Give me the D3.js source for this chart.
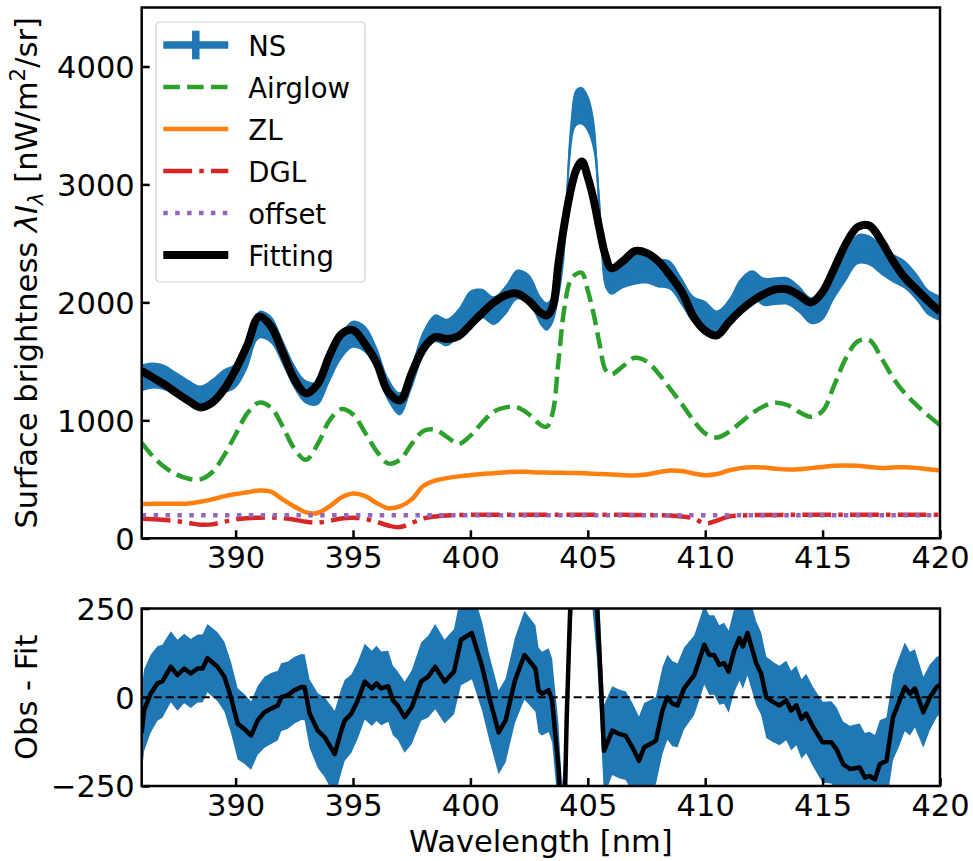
<!DOCTYPE html>
<html><head><meta charset="utf-8">
<script src="https://cdn.jsdelivr.net/npm/d3@7"></script>
<style>body{margin:0;background:#fff} svg text{font-family:"DejaVu Sans",sans-serif;fill:#000}</style>
</head><body><svg id="c" width="973" height="861"></svg>
<script>
// ---------- data ----------
const wavelength = [386,386.5,387,387.5,388,388.5,389,389.5,390,390.5,391,391.5,392,392.5,393,393.5,394,394.5,395,395.5,396,396.5,397,397.5,398,398.5,399,399.5,400,400.5,401,401.5,402,402.5,403,403.25,403.5,403.75,404,404.25,404.5,404.75,405,405.25,405.5,405.75,406,406.5,407,407.5,408,408.5,409,409.5,410,410.5,411,411.5,412,412.5,413,413.5,414,414.5,415,415.5,416,416.5,417,417.5,418,418.5,419,419.5,420];
const fitting = [1420,1360,1300,1230,1165,1110,1150,1260,1430,1640,1880,1800,1580,1350,1230,1310,1550,1730,1765,1650,1490,1240,1170,1400,1610,1705,1690,1715,1810,1910,2000,2060,2075,2010,1910,1890,1960,2330,2660,2930,3120,3195,3060,2870,2620,2400,2290,2350,2435,2420,2350,2230,2090,1880,1760,1720,1830,1930,2010,2070,2110,2110,2060,2000,2090,2290,2500,2640,2650,2520,2350,2210,2110,2010,1920];
const nsValue = [1360,1380,1360,1300,1240,1195,1250,1330,1380,1550,1810,1770,1580,1370,1240,1230,1430,1630,1730,1690,1520,1260,1140,1370,1650,1780,1745,1830,1975,1990,1930,2020,2150,2110,1925,1880,1940,2140,2500,3350,3650,3665,3600,3420,2800,2250,2190,2245,2275,2285,2250,2230,2090,1940,1900,1820,1910,2080,2150,2090,2095,2095,2025,1930,1965,2150,2305,2450,2440,2360,2290,2235,2130,2000,1950];
const nsError = [115,110,108,105,102,100,100,103,105,110,118,116,110,104,100,100,106,112,115,114,108,102,98,105,113,118,117,120,125,125,122,125,128,127,122,120,122,128,135,150,158,160,158,150,140,128,125,125,125,125,124,122,118,114,112,112,116,120,122,120,118,118,116,114,116,120,124,127,127,125,122,120,116,110,108];
const airglow = [810,690,600,540,505,500,560,700,880,1060,1150,1110,950,760,665,800,1000,1095,1050,900,740,635,665,800,910,920,860,800,870,980,1075,1110,1110,1050,960,945,1060,1500,1950,2180,2240,2250,2100,1900,1650,1430,1390,1460,1530,1500,1400,1270,1140,1000,890,855,900,980,1060,1120,1150,1130,1070,1030,1080,1300,1530,1670,1680,1530,1360,1230,1130,1040,960];
const zl = [290,292,293,293,295,310,330,355,375,390,405,395,330,270,220,215,270,345,380,360,300,255,270,330,445,490,510,525,535,545,552,560,565,562,558,557,556,555,555,554,553,552,550,548,546,544,540,535,533,540,560,575,570,550,535,545,575,595,603,600,590,583,585,595,605,615,618,615,605,597,600,603,597,585,575];
const dgl = [165,162,155,145,130,115,118,140,160,170,175,176,170,158,140,133,148,168,175,165,140,108,95,130,168,185,193,197,199,200,200,200,200,200,200,200,200,200,200,200,200,200,200,200,200,200,200,199,198,197,196,193,185,170,125,150,185,193,196,198,198,199,199,199,200,200,200,200,200,200,200,200,200,200,200];
const offset = [195,195,195,195,195,195,195,195,195,195,195,195,195,195,195,195,195,195,195,195,195,195,195,195,195,195,195,195,195,195,195,195,195,195,195,195,195,195,195,195,195,195,195,195,195,195,195,195,195,195,195,195,195,195,195,195,195,195,195,195,195,195,195,195,195,195,195,195,195,195,195,195,195,195,195];

const residWl = [386.0,386.1,386.38,386.67,386.88,387.24,387.52,387.81,388.09,388.38,388.59,388.8,389.23,389.52,389.8,390.09,390.37,390.66,390.94,391.23,391.51,391.8,391.94,392.23,392.51,392.8,392.94,393.15,393.5,393.8,394.22,394.5,394.65,394.93,395.2,395.5,395.8,396.0,396.2,396.5,396.7,396.9,397.2,397.5,397.9,398.2,398.5,398.9,399.3,399.6,400.06,400.5,400.8,401.2,401.5,401.9,402.3,402.77,402.9,403.05,403.33,403.48,403.6,403.75,403.9,404.02,404.1,404.25,404.4,404.75,405.1,405.4,405.55,405.69,406.04,406.33,406.61,406.9,407.18,407.4,407.68,407.9,408.18,408.39,408.6,408.82,409.1,409.53,409.75,409.96,410.17,410.38,410.6,410.8,411.0,411.24,411.46,411.6,411.8,412.17,412.38,412.6,412.88,413.16,413.45,413.66,413.88,414.1,414.3,414.6,415.0,415.37,415.59,415.87,416.16,416.58,416.8,417.0,417.23,417.44,417.72,418.0,418.23,418.5,418.72,418.93,419.29,419.57,419.86,420.0];
const residual = [-100,-37,10,39,45,86,62,81,67,81,81,110,86,58,0,-75,-89,-108,-65,-42,-32,-23,0,6,20,29,28,-46,-94,-113,-160,-94,-65,-46,-9,44,25,39,25,31,-9,-23,-56,-28,44,58,86,44,72,162,181,86,0,-99,-65,48,119,81,20,10,20,-9,-94,-198,-380,-300,-60,250,480,500,480,250,48,-151,-94,-103,-108,-141,-179,-141,-131,-122,-37,0,-18,-23,25,62,105,148,119,119,91,96,72,133,167,143,181,96,67,0,-13,-23,-9,-37,-23,-61,-46,-84,-127,-127,-146,-188,-202,-198,-226,-222,-231,-188,-179,-56,-18,29,10,25,-42,0,29,35];
const residError = [118,115,110,105,103,100,100,98,97,96,96,96,97,98,100,100,98,96,97,100,100,98,96,95,94,93,93,96,105,112,122,118,114,110,108,107,106,106,104,100,98,96,100,104,110,115,120,118,120,128,130,125,120,118,118,120,125,122,120,118,118,118,120,125,130,135,140,150,155,160,155,150,140,130,125,125,125,125,125,125,124,123,122,120,120,118,115,112,112,112,112,112,112,114,116,118,120,120,120,118,116,115,113,112,112,112,112,112,112,112,114,116,118,120,122,124,125,125,125,124,122,120,125,125,118,110,100,92,85,82];

const xDomain = [386, 420];
const xTicks = [390, 395, 400, 405, 410, 415, 420];
const yTopDomain = [0, 4500];
const yTopTicks = [0, 1000, 2000, 3000, 4000];
const yBotDomain = [-250, 250];
const yBotTicks = [-250, 0, 250];
const legendLabels = ["NS", "Airglow", "ZL", "DGL", "offset", "Fitting"];

// ---------- layout ----------
const svg = d3.select("#c");
const L = 141.7, R = 940;
const topY0 = 7.5, topY1 = 538.3, botY0 = 608.5, botY1 = 786;
const FS = 30.5, LFS = 27.5;
const C = {ns:"#1f77b4", air:"#2ca02c", zl:"#ff7f0e", dgl:"#d62728", off:"#9467bd"};

const x = d3.scaleLinear(xDomain, [L, R]);
const yT = d3.scaleLinear(yTopDomain, [topY1, topY0]);
const yB = d3.scaleLinear(yBotDomain, [botY1, botY0]);
const smooth = d3.curveCatmullRom.alpha(0.5);

const defs = svg.append("defs");
defs.append("clipPath").attr("id","clipT").append("rect").attr("x",L).attr("y",topY0).attr("width",R-L).attr("height",topY1-topY0);
defs.append("clipPath").attr("id","clipB").append("rect").attr("x",L).attr("y",botY0).attr("width",R-L).attr("height",botY1-botY0);

const idx = d3.range(wavelength.length);

// ---------- top panel ----------
const gT = svg.append("g").attr("clip-path","url(#clipT)");
gT.append("path")
  .attr("d", d3.area().x(i=>x(wavelength[i])).y0(i=>yT(nsValue[i]-nsError[i])).y1(i=>yT(nsValue[i]+nsError[i])).curve(smooth)(idx))
  .attr("fill", C.ns);
const lineT = arr => d3.line().x(i=>x(wavelength[i])).y(i=>yT(arr[i])).curve(smooth)(idx);
gT.append("path").attr("d", lineT(nsValue)).attr("fill","none").attr("stroke",C.ns).attr("stroke-width",2);
gT.append("path").attr("d", lineT(airglow)).attr("fill","none").attr("stroke",C.air).attr("stroke-width",4.5).attr("stroke-dasharray","16.6,7.2");
gT.append("path").attr("d", lineT(zl)).attr("fill","none").attr("stroke",C.zl).attr("stroke-width",4.5).attr("stroke-linejoin","round");
gT.append("path").attr("d", lineT(dgl)).attr("fill","none").attr("stroke",C.dgl).attr("stroke-width",4.5).attr("stroke-dasharray","28.8,7.2,4.5,7.2");
gT.append("path").attr("d", lineT(offset)).attr("fill","none").attr("stroke",C.off).attr("stroke-width",4.5).attr("stroke-dasharray","4.5,7.4");
gT.append("path").attr("d", lineT(fitting)).attr("fill","none").attr("stroke","#000").attr("stroke-width",8).attr("stroke-linejoin","round");

// ---------- bottom panel ----------
const ridx = d3.range(residWl.length);
const gB = svg.append("g").attr("clip-path","url(#clipB)");
gB.append("path")
  .attr("d", d3.area().x(i=>x(residWl[i])).y0(i=>yB(residual[i]-residError[i])).y1(i=>yB(residual[i]+residError[i]))(ridx))
  .attr("fill", C.ns);
gB.append("line").attr("x1",L).attr("x2",R).attr("y1",yB(0)).attr("y2",yB(0))
  .attr("stroke","#000").attr("stroke-width",2).attr("stroke-dasharray","8,4");
gB.append("path").attr("d", d3.line().x(i=>x(residWl[i])).y(i=>yB(residual[i]))(ridx))
  .attr("fill","none").attr("stroke","#000").attr("stroke-width",4.5).attr("stroke-linejoin","round");

// ---------- axes ----------
function styleAxis(g){
  g.select(".domain").remove();
  g.selectAll(".tick line").attr("stroke","#000").attr("stroke-width",2.5);
  g.selectAll(".tick text").attr("font-size",FS).attr("font-family","DejaVu Sans");
}
const fmt = d3.format("d");
svg.append("g").attr("transform",`translate(0,${topY1})`)
  .call(d3.axisBottom(x).tickValues(xTicks).tickFormat(fmt).tickSizeInner(-8).tickSizeOuter(0).tickPadding(8.5)).call(styleAxis);
svg.append("g").attr("transform",`translate(0,${botY1})`)
  .call(d3.axisBottom(x).tickValues(xTicks).tickFormat(fmt).tickSizeInner(-8).tickSizeOuter(0).tickPadding(8)).call(styleAxis);
svg.append("g").attr("transform",`translate(${L},0)`)
  .call(d3.axisLeft(yT).tickValues(yTopTicks).tickFormat(fmt).tickSizeInner(-8).tickSizeOuter(0).tickPadding(7)).call(styleAxis)
  .selectAll(".tick text").attr("dy","0.36em");
svg.append("g").attr("transform",`translate(${L},0)`)
  .call(d3.axisLeft(yB).tickValues(yBotTicks).tickFormat(fmt).tickSizeInner(-8).tickSizeOuter(0).tickPadding(7)).call(styleAxis)
  .selectAll(".tick text").attr("dy","0.36em");

// frames
[[topY0,topY1],[botY0,botY1]].forEach(([a,b])=>{
  svg.append("rect").attr("x",L).attr("y",a).attr("width",R-L).attr("height",b-a)
    .attr("fill","none").attr("stroke","#000").attr("stroke-width",2.5);
});

// ---------- axis labels ----------
const yl = svg.append("text").attr("transform",`translate(37,${(topY0+topY1)/2}) rotate(-90)`)
  .attr("text-anchor","middle").attr("font-size",FS);
yl.append("tspan").text("Surface brightness ");
yl.append("tspan").attr("font-style","italic").text("λI");
yl.append("tspan").attr("font-style","italic").attr("font-size",FS*0.7).attr("dy",6).text("λ");
yl.append("tspan").attr("dy",-6).text(" [nW/m");
yl.append("tspan").attr("font-size",FS*0.7).attr("dy",-12).text("2");
yl.append("tspan").attr("dy",12).text("/sr]");

svg.append("text").attr("transform",`translate(37,${(botY0+botY1)/2}) rotate(-90)`)
  .attr("text-anchor","middle").attr("font-size",FS).text("Obs - Fit");
svg.append("text").attr("x",(L+R)/2).attr("y",852).attr("text-anchor","middle").attr("font-size",FS).text("Wavelength [nm]");

// ---------- legend ----------
const lg = svg.append("g");
lg.append("rect").attr("x",156).attr("y",22).attr("width",209).attr("height",260).attr("rx",4)
  .attr("fill","#fff").attr("fill-opacity",0.8).attr("stroke","#d0d0d0").attr("stroke-width",1.2);
const hx0 = 163.3, hx1 = 228.3, ly0 = 45, ldy = 42;
const handles = [
  {stroke:C.ns, w:7.5, dash:null},
  {stroke:C.air, w:4.5, dash:"16.6,7.2"},
  {stroke:C.zl, w:4.5, dash:null},
  {stroke:C.dgl, w:4.5, dash:"28.8,7.2,4.5,7.2"},
  {stroke:C.off, w:4.5, dash:"4.5,7.4"},
  {stroke:"#000", w:8, dash:null}
];
legendLabels.forEach((lab,i)=>{
  const yy = ly0 + i*ldy, h = handles[i];
  const ln = lg.append("line").attr("x1",hx0).attr("x2",hx1).attr("y1",yy).attr("y2",yy)
    .attr("stroke",h.stroke).attr("stroke-width",h.w);
  if (h.dash) ln.attr("stroke-dasharray",h.dash);
  if (i===0) lg.append("line").attr("x1",(hx0+hx1)/2).attr("x2",(hx0+hx1)/2).attr("y1",yy-14.3).attr("y2",yy+14.3)
    .attr("stroke",h.stroke).attr("stroke-width",7.5);
  lg.append("text").attr("x",248.3).attr("y",yy+10.5).attr("font-size",LFS).text(lab);
});
</script></body></html>
